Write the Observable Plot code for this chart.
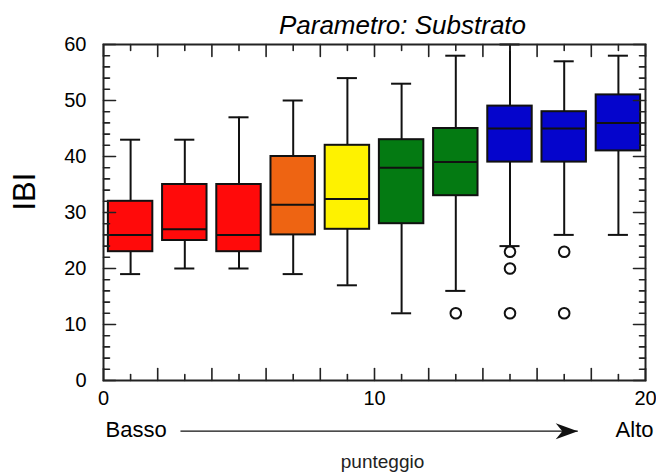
<!DOCTYPE html>
<html><head><meta charset="utf-8">
<script src="https://cdn.jsdelivr.net/npm/d3@7"></script>
<script src="https://cdn.jsdelivr.net/npm/@observablehq/plot@0.6"></script>
<style>body{margin:0;background:#fff} svg{display:block}</style>
</head><body><div id="chart"></div>
<script>
// ---- data ----
const groupX      = [1, 3, 5, 7, 9, 11, 13, 15, 17, 19];
const whiskerLow  = [19, 20, 20, 19, 17, 12, 16, 24, 26, 26];
const q1          = [23, 25, 23, 26, 27, 28, 33, 39, 39, 41];
const median      = [26, 27, 26, 31.4, 32.4, 38, 39, 45, 45, 46];
const q3          = [32, 35, 35, 40, 42, 43, 45, 49, 48, 51];
const whiskerHigh = [43, 43, 47, 50, 54, 53, 58, 60, 57, 58];
const boxColors   = ["#ff0a0a", "#ff0a0a", "#ff0a0a", "#ee6412", "#fef200",
                     "#047a12", "#047a12", "#0505cc", "#0505cc", "#0505cc"];
const outlierX    = [13, 15, 15, 15, 17, 17];
const outlierY    = [12, 23, 20, 12, 23, 12];

const xLabelTicks = [0, 10, 20];
const xMajorTicks = [0, 2, 4, 6, 8, 10, 12, 14, 16, 18, 20];
const xMinorTicks = [1, 3, 5, 7, 9, 11, 13, 15, 17, 19];
const yLabelTicks = [0, 10, 20, 30, 40, 50, 60];
const yMinorTicks = [2, 4, 6, 8, 12, 14, 16, 18, 22, 24, 26, 28, 32, 34, 36, 38, 42, 44, 46, 48, 52, 54, 56, 58];

const title = "Parametro: Substrato";
const yTitle = "IBI";
const xTitle = "punteggio";
const lowText = "Basso";
const highText = "Alto";
const arrowFrom = 2.84, arrowTo = 17.5, arrowLevel = -9.05;

// ---- derived tables ----
const boxes = groupX.map((x, i) => ({x, lo: whiskerLow[i], q1: q1[i], med: median[i], q3: q3[i], hi: whiskerHigh[i], color: boxColors[i]}));
const caps = boxes.flatMap(b => [{x: b.x, y: b.lo}, {x: b.x, y: b.hi}]);
const outliers = outlierX.map((x, i) => ({x, y: outlierY[i]}));
const boxHalf = 0.82, capHalf = 0.37;

const tickShape = {draw(ctx, l) { ctx.moveTo(0, 0); ctx.lineTo(0, -l); }};
const headShape = {draw(ctx, l) {
  ctx.moveTo(0, -l); ctx.lineTo(8, 0); ctx.lineTo(0, -l * 0.3); ctx.lineTo(-8, 0); ctx.closePath();
}};
const tickStyle = {anchor: "start", shape: tickShape, stroke: "#222", strokeWidth: 1.6};
const xt = (vals, anchor, len, rot) => Plot.vectorX(vals, {x: d => d, frameAnchor: anchor, length: len, rotate: rot, ...tickStyle});
const yt = (vals, anchor, len, rot) => Plot.vectorY(vals, {y: d => d, frameAnchor: anchor, length: len, rotate: rot, ...tickStyle});

const font = "'Liberation Sans', Arial, Helvetica, sans-serif";

const chart = Plot.plot({
  width: 656, height: 475,
  marginLeft: 103, marginRight: 11, marginTop: 44, marginBottom: 95,
  x: {domain: [0, 20], label: null},
  y: {domain: [0, 60], label: null},
  style: {fontFamily: font, fontSize: "20px", background: "white", color: "black"},
  marks: [
    // whiskers
    Plot.ruleX(boxes, {x: "x", y1: "lo", y2: "q1", stroke: "#111", strokeWidth: 2}),
    Plot.ruleX(boxes, {x: "x", y1: "q3", y2: "hi", stroke: "#111", strokeWidth: 2}),
    Plot.ruleY(caps, {y: "y", x1: d => d.x - capHalf, x2: d => d.x + capHalf, stroke: "#111", strokeWidth: 2}),
    // boxes
    Plot.rect(boxes, {x1: d => d.x - boxHalf, x2: d => d.x + boxHalf, y1: "q1", y2: "q3", fill: "color", stroke: "#111", strokeWidth: 2}),
    Plot.ruleY(boxes, {y: "med", x1: d => d.x - boxHalf, x2: d => d.x + boxHalf, stroke: "#111", strokeWidth: 2}),
    // outliers
    Plot.dot(outliers, {x: "x", y: "y", r: 5.3, stroke: "#111", strokeWidth: 2, fill: "white"}),
    // inward ticks
    xt(xMajorTicks, "bottom", 12, 0), xt(xMinorTicks, "bottom", 6, 0),
    xt(xMajorTicks, "top", 12, 180), xt(xMinorTicks, "top", 6, 180),
    yt(yLabelTicks, "left", 12, 90), yt(yMinorTicks, "left", 6, 90),
    yt(yLabelTicks, "right", 12, 270), yt(yMinorTicks, "right", 6, 270),
    Plot.frame({stroke: "#222", strokeWidth: 2}),
    // tick labels
    Plot.axisX({ticks: xLabelTicks, tickSize: 0, tickPadding: 10, fontSize: 20, label: null}),
    Plot.axisY({ticks: yLabelTicks, tickSize: 0, tickPadding: 17, fontSize: 20, label: null}),
    // titles
    Plot.text([title], {text: d => d, frameAnchor: "top", dx: 28, dy: -19, fontSize: 26, fontStyle: "italic", lineAnchor: "middle"}),
    Plot.text([yTitle], {text: d => d, frameAnchor: "left", dx: -78, dy: -2, rotate: -90, fontSize: 31, lineAnchor: "middle"}),
    Plot.text([lowText], {text: d => d, frameAnchor: "bottom-left", dx: 2, dy: 49, fontSize: 22, textAnchor: "start", lineAnchor: "middle"}),
    Plot.text([highText], {text: d => d, frameAnchor: "bottom-right", dx: 8, dy: 49, fontSize: 22, textAnchor: "end", lineAnchor: "middle"}),
    Plot.text([xTitle], {text: d => d, frameAnchor: "bottom", dx: 8, dy: 81, fontSize: 19, fill: "#222", lineAnchor: "middle"}),
    // arrow
    Plot.link([{a: arrowFrom, b: arrowTo, y: arrowLevel}], {x1: "a", x2: "b", y1: "y", y2: "y", stroke: "#111", strokeWidth: 1.3}),
    Plot.vector([{x: arrowTo, y: arrowLevel}], {x: "x", y: "y", rotate: 90, length: 22, anchor: "end", shape: headShape, fill: "#111", stroke: "none"})
  ]
});
document.getElementById("chart").appendChild(chart);
</script>
</body></html>
